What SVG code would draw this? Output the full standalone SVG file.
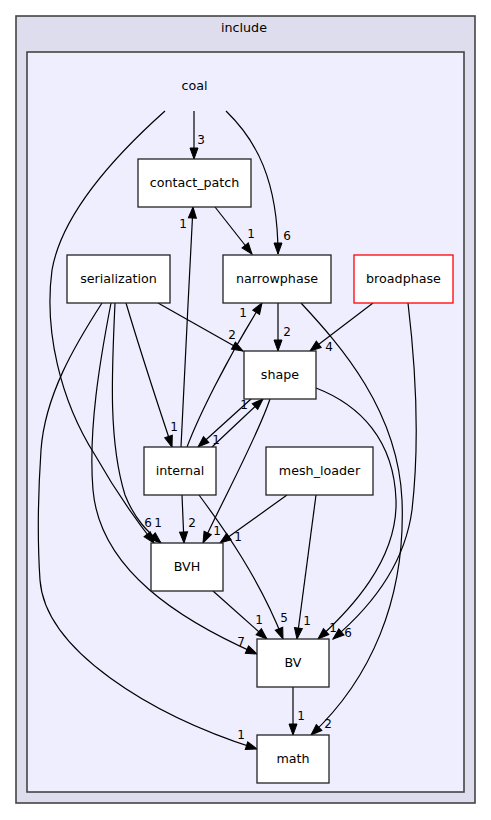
<svg xmlns="http://www.w3.org/2000/svg" width="491" height="820" viewBox="0 0 491 820">
<defs>
<marker id="ah" markerUnits="userSpaceOnUse" markerWidth="12" markerHeight="9" refX="11" refY="4" orient="auto" overflow="visible">
<path d="M0,0 L11,4 L0,8 z" fill="#000" stroke="#000" stroke-width="1"/>
</marker>
<style>
text{font-family:"DejaVu Sans","Liberation Sans",sans-serif;fill:#000;}
.cl{font-size:12.7px;text-anchor:middle;}
.nd rect{fill:#fff;stroke:#222;stroke-width:1.3;}
.nd text{font-size:12.7px;text-anchor:middle;}
.ed path{fill:none;stroke:#000;stroke-width:1.2;marker-end:url(#ah);}
.ed text{font-size:12px;text-anchor:middle;}
</style>
</defs>
<rect x="0" y="0" width="491" height="820" fill="#fff"/>
<g id="cluster_include">
<rect x="16" y="16" width="459" height="787" fill="#ddddee" stroke="#444" stroke-width="1.6"/>
<text class="cl" x="244" y="31.5">include</text>
</g>
<g id="cluster_coal">
<rect x="27" y="52" width="437" height="740" fill="#eeeeff" stroke="#444" stroke-width="1.6"/>
<text class="cl" x="194.5" y="90">coal</text>
</g>
<g id="edges" class="ed">
<path d="M194,111 L194,159"/><text x="201" y="144">3</text>
<path d="M226,111 C256,140 278,180 278,254"/><text x="287" y="240">6</text>
<path d="M165,111 C118,153 62,213 52,270 C44,330 60,400 95,455 C112,485 132,515 154,543"/><text x="148" y="527">6</text>
<path d="M215,207 L252,254"/><text x="251" y="238">1</text>
<path d="M181,447 C184,390 189,280 193,207"/><text x="183" y="228">1</text>
<path d="M158,303 L243,351"/><text x="232" y="339">2</text>
<path d="M126,303 C140,350 158,405 172,447"/><text x="174" y="431">1</text>
<path d="M115,303 C112,370 108,440 125,495 C135,520 148,532 161,543"/><text x="158" y="527">1</text>
<path d="M111,303 C100,360 88,430 93,490 C100,570 180,620 257,654"/><text x="241" y="646">7</text>
<path d="M102,303 C75,345 45,395 41,450 C37,510 38,550 40,580 C45,650 150,715 257,749"/><text x="241" y="739">1</text>
<path d="M278,303 L278,351"/><text x="287" y="336">2</text>
<path d="M301,303 C340,345 398,410 402,500 C406,600 370,680 311,735"/><text x="328" y="728">2</text>
<path d="M187,447 C198,418 225,362 262,303"/><text x="243" y="317">1</text>
<path d="M373,303 L310,351"/><text x="329" y="351">4</text>
<path d="M408,303 C416,370 420,440 412,510 C404,570 365,612 333,639"/><text x="348" y="637">6</text>
<path d="M316,388 C360,405 394,440 396,500 C398,560 350,610 318,639"/><text x="333" y="632">1</text>
<path d="M251,399 L198,447"/><text x="216" y="444">1</text>
<path d="M212,447 L263,399"/><text x="244" y="409">1</text>
<path d="M270,399 C258,435 228,490 203,543"/><text x="217" y="535">1</text>
<path d="M182,495 L184,543"/><text x="192" y="527">2</text>
<path d="M199,495 C225,530 260,580 283,639"/><text x="284" y="622">5</text>
<path d="M287,495 L220,543"/><text x="238" y="541">1</text>
<path d="M316,495 L297,639"/><text x="307" y="625">1</text>
<path d="M213,591 L267,639"/><text x="259" y="624">1</text>
<path d="M293,687 L293,735"/><text x="301" y="720">1</text>
</g>
<g id="contact_patch" class="nd"><rect x="138" y="159" width="113" height="48"/><text x="194.5" y="187">contact_patch</text></g>
<g id="serialization" class="nd"><rect x="67" y="255" width="103" height="48"/><text x="118.5" y="283">serialization</text></g>
<g id="narrowphase" class="nd"><rect x="223" y="255" width="108" height="48"/><text x="277" y="283">narrowphase</text></g>
<g id="broadphase" class="nd"><rect x="354" y="255" width="99" height="48" style="stroke:#ff0000"/><text x="403.5" y="283">broadphase</text></g>
<g id="shape" class="nd"><rect x="244" y="351" width="72" height="48"/><text x="280" y="379">shape</text></g>
<g id="internal" class="nd"><rect x="144" y="447" width="72" height="48"/><text x="180" y="475">internal</text></g>
<g id="mesh_loader" class="nd"><rect x="266" y="447" width="107" height="48"/><text x="319.5" y="475">mesh_loader</text></g>
<g id="BVH" class="nd"><rect x="151" y="543" width="72" height="48"/><text x="187" y="571">BVH</text></g>
<g id="BV" class="nd"><rect x="257" y="639" width="72" height="48"/><text x="293" y="667">BV</text></g>
<g id="math" class="nd"><rect x="257" y="735" width="72" height="48"/><text x="293" y="763">math</text></g>
</svg>
